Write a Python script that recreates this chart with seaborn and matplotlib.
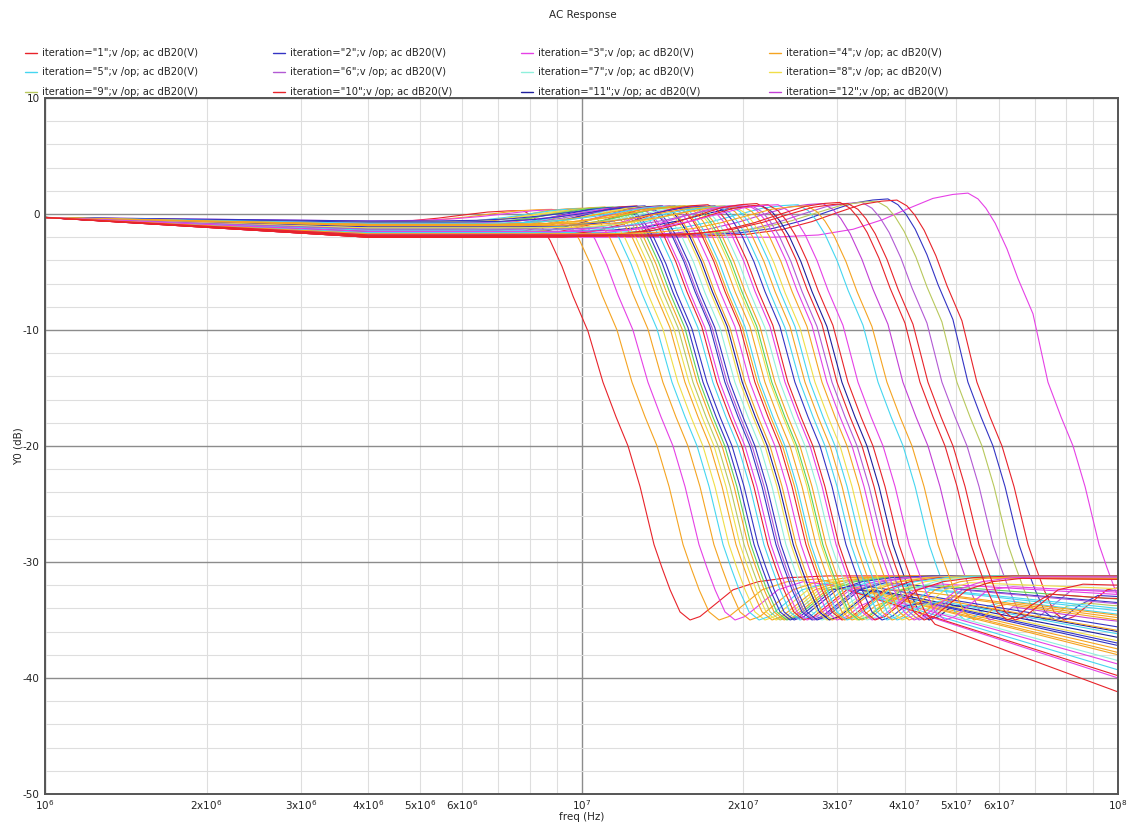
import matplotlib
matplotlib.use("Agg")
import matplotlib.pyplot as plt
import numpy as np
import pandas as pd
import seaborn as sns
from matplotlib.lines import Line2D
from matplotlib.ticker import FixedLocator, FixedFormatter

# ---- sweep data -------------------------------------------------------------
iterations = list(range(1, 57))

# frequency where each iteration's response crosses -20 dB
cutoff_hz = [
    1.221e7, 5.848e7, 8.245e7, 1.383e7, 3.976e7, 5.231e7, 2.151e7, 1.684e7,
    5.578e7, 6.078e7, 3.405e7, 4.424e7, 1.481e7, 1.579e7, 1.642e7, 1.736e7,
    1.766e7, 1.797e7, 1.828e7, 1.850e7, 1.876e7, 1.908e7, 1.957e7, 1.990e7,
    2.017e7, 2.061e7, 2.080e7, 2.105e7, 2.198e7, 2.220e7, 2.246e7, 2.294e7,
    2.344e7, 2.370e7, 2.395e7, 2.447e7, 2.500e7, 2.520e7, 2.554e7, 2.610e7,
    2.667e7, 2.700e7, 2.783e7, 2.844e7, 2.906e7, 2.969e7, 3.033e7, 3.126e7,
    3.193e7, 3.263e7, 3.333e7, 3.494e7, 3.648e7, 4.131e7, 4.760e7, 4.926e7,
]

# passband level just below the ripple peak (dB)
passband_db = [
    -0.8, -1.8, -2.0, -0.7, -1.6, -1.9, -1.0, -0.9, -1.7, -1.9, -1.5, -1.8,
    -0.6, -1.2, -0.8, -1.4, -0.7, -1.0, -1.8, -0.9, -1.3, -0.6, -1.1, -2.0,
    -0.8, -1.5, -1.0, -0.7, -1.2, -1.9, -0.9, -1.4, -2.0, -1.1, -0.8, -1.6,
    -1.0, -1.3, -0.9, -1.2, -1.7, -2.0, -1.1, -1.4, -0.9, -1.6, -1.2, -1.0,
    -1.8, -1.3, -2.0, -1.9, -1.5, -1.7, -1.9, -1.8,
]

# height of the ripple peak at the band edge (dB)
peak_db = [
    0.3, 1.3, 1.8, 0.4, 0.8, 1.0, 0.6, 0.5, 1.1, 1.2, 0.7, 0.9,
    0.4, 0.5, 0.5, 0.6, 0.5, 0.6, 0.5, 0.6, 0.6, 0.5, 0.6, 0.7,
    0.6, 0.7, 0.6, 0.6, 0.7, 0.7, 0.6, 0.7, 0.7, 0.6, 0.7, 0.7,
    0.6, 0.7, 0.7, 0.6, 0.7, 0.8, 0.7, 0.6, 0.7, 0.7, 0.6, 0.7,
    0.8, 0.7, 0.9, 0.8, 0.8, 0.7, 1.0, 0.9,
]

# stopband floor reached at 100 MHz (dB)
tail_db = [
    -31.2, -33.0, -31.0, -37.5, -34.5, -32.5, -38.5, -31.3, -33.8, -32.0, -36.0, -35.2,
    -40.0, -31.4, -39.3, -31.2, -36.8, -31.5, -38.0, -31.3, -35.6, -31.2, -34.0, -39.8,
    -31.4, -37.0, -31.3, -33.5, -31.2, -36.5, -31.5, -38.8, -31.3, -34.8, -31.2, -37.8,
    -31.4, -33.2, -35.9, -31.3, -32.8, -31.2, -37.2, -34.2, -31.4, -36.2, -32.3, -35.0,
    -31.3, -33.6, -31.5, -41.2, -32.6, -34.6, -33.2, -32.0,
]

dc_gain_db = -0.3     # level at 1 MHz
droop_hz = 4.0e6      # passband has settled to its level by here
knee_hz = 2.6e7       # stopband floor starts rolling off above this
floor_db = -31.2      # stopband floor below the knee

# normalised response shape (frequency / cutoff)
rise_ratio = [0.276, 0.335, 0.389, 0.442, 0.493, 0.548, 0.597, 0.637]
rise_frac = [0.0, 0.05, 0.18, 0.40, 0.65, 0.88, 0.97, 1.0]
fall_ratio = [0.665, 0.688, 0.716, 0.753, 0.790, 0.842]
fall_drop_db = [0.5, 1.3, 2.6, 4.8, 7.4, 10.4]
stop_ratio = [0.898, 0.950, 1.000, 1.053, 1.118, 1.157, 1.198, 1.250]
stop_db = [-14.5, -17.5, -20.0, -23.5, -28.5, -30.5, -32.4, -34.3]
notch_ratio = [1.305, 1.362, 1.440, 1.569, 1.747, 1.987, 2.359]
notch_db = [-35.0, -34.7, -33.8, -32.4, -31.7, -31.35, -31.2]

# ---- build long-form table ----------------------------------------------------
rows = []
for it, fc, base, peak, tail in zip(iterations, cutoff_hz, passband_db, peak_db, tail_db):
    # stopband floor of this iteration: flat up to the knee, then rolling off
    floor_f = np.log10([1e6, knee_hz, 1e8])
    floor_v = [floor_db, floor_db, tail]

    pts = [(1e6, dc_gain_db)]
    if droop_hz < fc * rise_ratio[0]:
        pts.append((droop_hz, base))
    pts += [(fc * r, base + k * (peak - base)) for r, k in zip(rise_ratio, rise_frac)]
    pts += [(fc * r, peak - d) for r, d in zip(fall_ratio, fall_drop_db)]
    pts += [(fc * r, v) for r, v in zip(stop_ratio, stop_db)]
    for r, v in zip(notch_ratio, notch_db):
        f = fc * r
        pts.append((f, min(v, float(np.interp(np.log10(f), floor_f, floor_v)))))
    if pts[-1][0] < knee_hz:
        pts.append((knee_hz, floor_db))
    if pts[-1][0] < 1e8:
        pts.append((1e8, tail))
    for order, (f, v) in enumerate(pts):
        rows.append({"iteration": it, "order": order, "freq": f, "db": v})
df = pd.DataFrame(rows)

# ---- colours ------------------------------------------------------------------
R, B, M, O = "#e8232a", "#3434c4", "#e640e6", "#f5a421"
C, P, A, Y = "#45d6f0", "#b25ad4", "#8ff0dc", "#f0de48"
OL, N, V, G = "#b8c85c", "#1e1e9c", "#c23fd6", "#5cd35c"
line_colors = [
    R, B, M, O, C, P, A, Y, OL, R, N, V,
    M, O, C, O, Y, OL, O, G, B, B, C, R,
    M, B, P, B, Y, N, O, M, R, O, C, O,
    Y, G, O, A, M, R, B, C, O, C, Y, O,
    M, P, R, R, M, O, R, R,
]
palette = dict(zip(iterations, line_colors))

# ---- figure -------------------------------------------------------------------
sns.set_style("white")
plt.rcParams["font.family"] = ["DejaVu Sans"]
plt.rcParams["axes.unicode_minus"] = False
fig = plt.figure(figsize=(11.36, 8.27), dpi=100)
ax = fig.add_axes([45 / 1136, 33 / 827, 1073 / 1136, 696 / 827])

sns.lineplot(data=df, x="freq", y="db", hue="iteration", palette=palette,
             units="iteration", estimator=None, sort=False, linewidth=0.8,
             legend=False, ax=ax)

ax.set_xscale("log")
ax.set_xlim(1e6, 1e8)
ax.set_ylim(-50, 10)

ax.xaxis.set_major_locator(FixedLocator([1e6, 1e7, 1e8]))
ax.xaxis.set_major_formatter(FixedFormatter(["10$^{6}$", "10$^{7}$", "10$^{8}$"]))
minor_x = [m * 10 ** e for e in (6, 7) for m in range(2, 10)]
minor_lbl = []
for e in (6, 7):
    for m in range(2, 10):
        minor_lbl.append(f"{m}x10$^{{{e}}}$" if m <= 6 else "")
ax.xaxis.set_minor_locator(FixedLocator(minor_x))
ax.xaxis.set_minor_formatter(FixedFormatter(minor_lbl))
ax.yaxis.set_major_locator(FixedLocator(list(range(-50, 11, 10))))
ax.yaxis.set_minor_locator(FixedLocator(list(range(-50, 11, 2))))

ax.grid(which="major", color="#8c8c8c", linewidth=1.0)
ax.grid(which="minor", color="#dedede", linewidth=0.8)
ax.set_axisbelow(True)

ax.tick_params(axis="both", which="both", labelsize=7.5, colors="#222222")
ax.tick_params(axis="x", which="both", direction="in", length=4, width=0.8, pad=3)
ax.tick_params(axis="y", which="major", direction="out", length=3, width=0.8, pad=1)
ax.tick_params(axis="y", which="minor", direction="out", length=2, width=0.8)
for s in ax.spines.values():
    s.set_color("#555555")
    s.set_linewidth(1.4)

ax.set_xlabel("freq (Hz)", fontsize=7.5, labelpad=0)
ax.set_ylabel("Y0 (dB)", fontsize=7.5, labelpad=-1)

fig.text(583 / 1136, 1 - 15 / 827, "AC Response", ha="center", va="center", fontsize=7.5)

# legend: first twelve iterations in four columns
for i in range(12):
    col, row = i % 4, i // 4
    x0 = (25 + 248 * col) / 1136
    y0 = 1 - (53 + 19.3 * row) / 827
    fig.add_artist(Line2D([x0, x0 + 12 / 1136], [y0, y0], color=line_colors[i],
                          linewidth=1.0, transform=fig.transFigure))
    fig.text(x0 + 17 / 1136, y0, f'iteration="{iterations[i]}";v /op; ac dB20(V)',
             ha="left", va="center", fontsize=7.2)

fig.savefig("out.png", dpi=100, facecolor="white")
